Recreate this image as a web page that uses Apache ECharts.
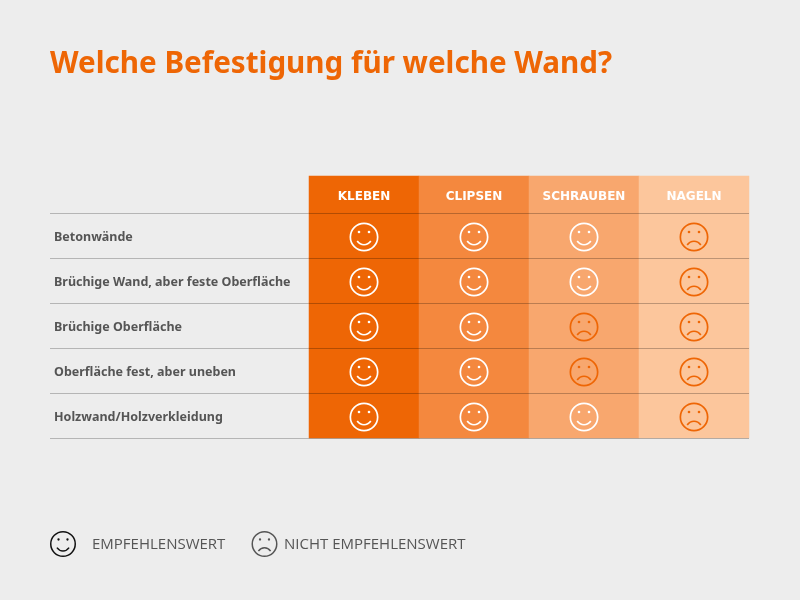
<!DOCTYPE html>
<html>
<head>
<meta charset="utf-8">
<title>Welche Befestigung</title>
<style>
html, body { margin: 0; padding: 0; background: #ededed; }
#chart { width: 800px; height: 600px; }
</style>
<script src="https://cdn.jsdelivr.net/npm/echarts@6/dist/echarts.min.js"></script>
</head>
<body>
<div id="chart"></div>
<script>
var chartTitle = 'Welche Befestigung für welche Wand?';
var walls = ['Betonwände', 'Brüchige Wand, aber feste Oberfläche', 'Brüchige Oberfläche', 'Oberfläche fest, aber uneben', 'Holzwand/Holzverkleidung'];
var methods = ['KLEBEN', 'CLIPSEN', 'SCHRAUBEN', 'NAGELN'];
// 1 = empfehlenswert, 0 = nicht empfehlenswert
var kleben = [1, 1, 1, 1, 1];
var clipsen = [1, 1, 1, 1, 1];
var schrauben = [1, 1, 0, 0, 1];
var nageln = [0, 0, 0, 0, 0];
var legendGood = 'EMPFEHLENSWERT';
var legendBad = 'NICHT EMPFEHLENSWERT';

var ratings = [kleben, clipsen, schrauben, nageln];
var columnColors = ['#ee6605', '#f4883e', '#f8a76e', '#fcc69c'];
var orange = '#ee6605';
var boldFont = '"Noto Sans", sans-serif';

var cellData = [];
var faceData = [];
var headerData = [];
for (var c = 0; c < methods.length; c++) {
	headerData.push({ value: [c, 0, 1], itemStyle: { color: columnColors[c] } });
	for (var r = 0; r < walls.length; r++) {
		cellData.push({ value: [c, r, ratings[c][r]], itemStyle: { color: columnColors[c] } });
		faceData.push([c, r, ratings[c][r]]);
	}
}

// Gesicht aus Kreis, zwei Augen und Mund
function face(cx, cy, size, good, color, lineWidth) {
	var k = size / 14.5;
	var eye = { fill: color, stroke: null };
	var line = { fill: null, stroke: color, lineWidth: lineWidth };
	return {
		type: 'group',
		children: [
			{ type: 'circle', shape: { cx: cx, cy: cy, r: size - lineWidth / 2 }, style: line },
			{ type: 'circle', shape: { cx: cx - 5 * k, cy: cy - 5 * k, r: 1.3 * k }, style: eye },
			{ type: 'circle', shape: { cx: cx + 5 * k, cy: cy - 5 * k, r: 1.3 * k }, style: eye },
			{
				type: 'bezierCurve',
				shape: good
					? { x1: cx - 6.8 * k, y1: cy + 4 * k, x2: cx + 6.8 * k, y2: cy + 4 * k, cpx1: cx - 3.2 * k, cpy1: cy + 9 * k, cpx2: cx + 3.2 * k, cpy2: cy + 9 * k }
					: { x1: cx - 6.8 * k, y1: cy + 8 * k, x2: cx + 6.8 * k, y2: cy + 8 * k, cpx1: cx - 3.2 * k, cpy1: cy + 3 * k, cpx2: cx + 3.2 * k, cpy2: cy + 3 * k },
				style: line
			}
		]
	};
}

var myChart = echarts.init(document.getElementById('chart'));

var option = {
	backgroundColor: '#ededed',
	animation: false,
	title: {
		text: chartTitle,
		left: 50,
		top: 50,
		padding: 0,
		textStyle: { color: orange, fontFamily: boldFont, fontWeight: 'bold', fontSize: 29.6 }
	},
	grid: [
		{ left: 50, top: 213, width: 259, height: 225 },
		{ left: 309, top: 213, width: 440, height: 225 },
		{ left: 309, top: 176, width: 440, height: 37 }
	],
	xAxis: [
		{ gridIndex: 0, type: 'value', show: false },
		{ gridIndex: 1, type: 'category', data: methods, show: false },
		{ gridIndex: 2, type: 'category', data: methods, show: false }
	],
	yAxis: [
		{
			gridIndex: 0, type: 'category', data: walls, inverse: true,
			axisLine: { show: false }, axisTick: { show: false },
			axisLabel: {
				inside: true,
				margin: 4,
				formatter: function (value) { return '{wall|' + value + '}'; },
				rich: {
					wall: { color: '#555555', fontFamily: boldFont, fontWeight: 'bold', fontSize: 12.5, padding: [4, 0, 0, 0] }
				}
			},
			splitLine: { show: true, lineStyle: { color: '#b5b5b5', width: 1 } }
		},
		{
			gridIndex: 1, type: 'category', data: walls, inverse: true, z: 10,
			axisLine: { show: false }, axisTick: { show: false }, axisLabel: { show: false },
			splitLine: { show: true, lineStyle: { color: 'rgba(0,0,0,0.25)', width: 1 } }
		},
		{ gridIndex: 2, type: 'category', data: [''], show: false }
	],
	graphic: [
		face(63, 544, 13, true, '#111111', 1.5),
		{ type: 'text', left: 92, top: 537, style: { text: legendGood, fill: '#555555', font: '15px "Open Sans", sans-serif' } },
		face(264.5, 544, 13, false, '#555555', 1.5),
		{ type: 'text', left: 284, top: 537, style: { text: legendBad, fill: '#555555', font: '15px "Open Sans", sans-serif' } }
	],
	series: [
		{
			type: 'heatmap',
			xAxisIndex: 2,
			yAxisIndex: 2,
			data: headerData,
			label: {
				show: true,
				formatter: function (p) { return methods[p.value[0]]; },
				color: '#ffffff',
				fontFamily: '"DejaVu Sans", sans-serif',
				fontWeight: 'bold',
				fontSize: 12,
				offset: [0, 2]
			}
		},
		{
			type: 'heatmap',
			xAxisIndex: 1,
			yAxisIndex: 1,
			data: cellData
		},
		{
			type: 'custom',
			xAxisIndex: 1,
			yAxisIndex: 1,
			z: 5,
			data: faceData,
			renderItem: function (params, api) {
				var p = api.coord([api.value(0), api.value(1)]);
				var good = api.value(2) === 1;
				return face(p[0], p[1] + 1.5, 14.5, good, good ? '#ffffff' : orange, 1.7);
			}
		}
	]
};

myChart.setOption(option);
</script>
</body>
</html>
